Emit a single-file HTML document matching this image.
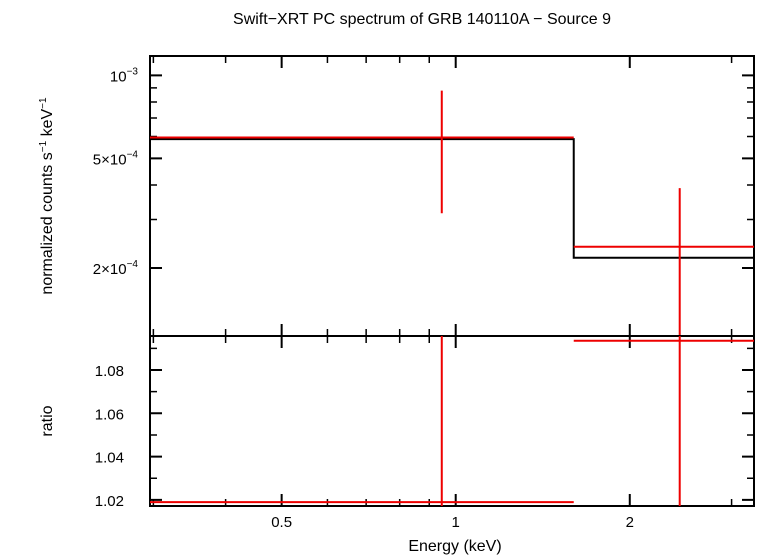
<!DOCTYPE html>
<html><head><meta charset="utf-8"><style>
body{margin:0;background:#fff}
svg{display:block;font-family:"Liberation Sans",sans-serif}
</style></head><body>
<svg id="c" width="758" height="556" viewBox="0 0 758 556">
<text x="422" y="24" text-anchor="middle" font-size="16">Swift−XRT PC spectrum of GRB 140110A − Source 9</text>
<g id="top"></g>
<g id="bot"></g>
<text x="455" y="551" text-anchor="middle" font-size="16">Energy (keV)</text>
<text transform="translate(52,196) rotate(-90)" text-anchor="middle" font-size="16">normalized counts s<tspan font-size="10" dy="-6">−1</tspan><tspan dy="6"> keV</tspan><tspan font-size="10" dy="-6">−1</tspan></text>
<text transform="translate(52,421) rotate(-90)" text-anchor="middle" font-size="16">ratio</text>
</svg>
<script>
// data
const binLo=[0.296,1.6];
const binHi=[1.6,3.28];
const binCenter=[0.946,2.44];
const modelVals=[5.87e-4,2.18e-4];
const dataVals=[5.95e-4,2.39e-4];
const dataErrLo=[3.16e-4,5e-5];
const dataErrHi=[8.8e-4,3.9e-4];
const ratioVals=[1.019,1.0935];
const ratioErrLo=[0.9,0.9];
const ratioErrHi=[1.2,1.2];
const xTicks=[0.5,1,2];
const xMinor=[0.3,0.4,0.6,0.7,0.8,0.9,3];
const yTopTicks=[1e-3,5e-4,2e-4];
const yTopLabels=["10","5×10","2×10"];
const yTopMinor=[9e-4,8e-4,7e-4,6e-4,4e-4,3e-4];
const yRatioTicks=[1.02,1.04,1.06,1.08];
const yRatioMinor=[1.03,1.05,1.07,1.09];

const L=150,R=754,T1=56,B1=336,T2=336,B2=506;
const xMin=0.296,xMax=3.28,yMin=1.134e-4,yMax=1.175e-3,rMin=1.0172,rMax=1.0957;
const X=e=>L+(Math.log(e)-Math.log(xMin))/(Math.log(xMax)-Math.log(xMin))*(R-L);
const Y1=v=>B1-(Math.log(v)-Math.log(yMin))/(Math.log(yMax)-Math.log(yMin))*(B1-T1);
const Y2=v=>B2-(v-rMin)/(rMax-rMin)*(B2-T2);
const NS="http://www.w3.org/2000/svg";
function mk(p,t,a){const e=document.createElementNS(NS,t);for(const k in a)e.setAttribute(k,a[k]);p.appendChild(e);return e;}
const cl=(v,a,b)=>Math.max(a,Math.min(b,v));
const gTop=document.getElementById('top'),gBot=document.getElementById('bot');

function frame(g,T,B){
  let r=mk(g,'rect',{x:L,y:T,width:R-L,height:B-T,fill:'none',stroke:'#000','stroke-width':2});
  
  
  xTicks.forEach(v=>{const x=X(v);
    let t=mk(g,'path',{d:`M${x} ${T}v12M${x} ${B}v-12`,stroke:'#000','stroke-width':2});
    
    });
  xMinor.forEach(v=>{const x=X(v);
    let t=mk(g,'path',{d:`M${x} ${T}v7M${x} ${B}v-7`,stroke:'#000','stroke-width':1.5});
    
    });
}
frame(gTop,T1,B1);frame(gBot,T2,B2);

yTopTicks.forEach((v,i)=>{const y=Y1(v);
  let t=mk(gTop,'path',{d:`M${L} ${y}h12M${R} ${y}h-12`,stroke:'#000','stroke-width':2});
  
  
  let tx=mk(gTop,'text',{x:L-12,y:y+6,'text-anchor':'end','font-size':15});
  
  
  tx.appendChild(document.createTextNode(yTopLabels[i]));
  let sp=mk(tx,'tspan',{'font-size':10,dy:-7});
  sp.textContent=i==0?'−3':'−4';
});
yTopMinor.forEach(v=>{const y=Y1(v);
  let t=mk(gTop,'path',{d:`M${L} ${y}h7M${R} ${y}h-7`,stroke:'#000','stroke-width':1.5});
  
  });
yRatioTicks.forEach(v=>{const y=Y2(v);
  let t=mk(gBot,'path',{d:`M${L} ${y}h12M${R} ${y}h-12`,stroke:'#000','stroke-width':2});
  
  
  let tx=mk(gBot,'text',{x:L-26,y:y+6,'text-anchor':'end','font-size':15});
  
  
  tx.textContent=v.toFixed(2);});
yRatioMinor.forEach(v=>{const y=Y2(v);
  let t=mk(gBot,'path',{d:`M${L} ${y}h7M${R} ${y}h-7`,stroke:'#000','stroke-width':1.5});
  
  });
xTicks.forEach(v=>{let tx=mk(gBot,'text',{x:X(v),y:527,'text-anchor':'middle','font-size':15});
  
  
  tx.textContent=String(v);});

// model step line
let d='';
binLo.forEach((lo,i)=>{const y=Y1(modelVals[i]);d+=(i?'L':'M')+X(lo)+' '+y+'L'+X(binHi[i])+' '+y;});
let m=mk(gTop,'path',{d,fill:'none',stroke:'#000','stroke-width':2});



binLo.forEach((lo,i)=>{
  const y=Y1(dataVals[i]),x=X(binCenter[i]);
  let p=mk(gTop,'path',{d:`M${X(lo)} ${y}H${X(binHi[i])}M${x} ${cl(Y1(dataErrHi[i]),T1,B1)}V${cl(Y1(dataErrLo[i]),T1,B1)}`,stroke:'#e00','stroke-width':2});
  
  
  const yr=Y2(ratioVals[i]);
  let q=mk(gBot,'path',{d:`M${X(lo)} ${yr}H${X(binHi[i])}M${x} ${cl(Y2(ratioErrHi[i]),T2,B2)}V${cl(Y2(ratioErrLo[i]),T2,B2)}`,stroke:'#e00','stroke-width':2});
  
  
});
</script>
</body></html>
